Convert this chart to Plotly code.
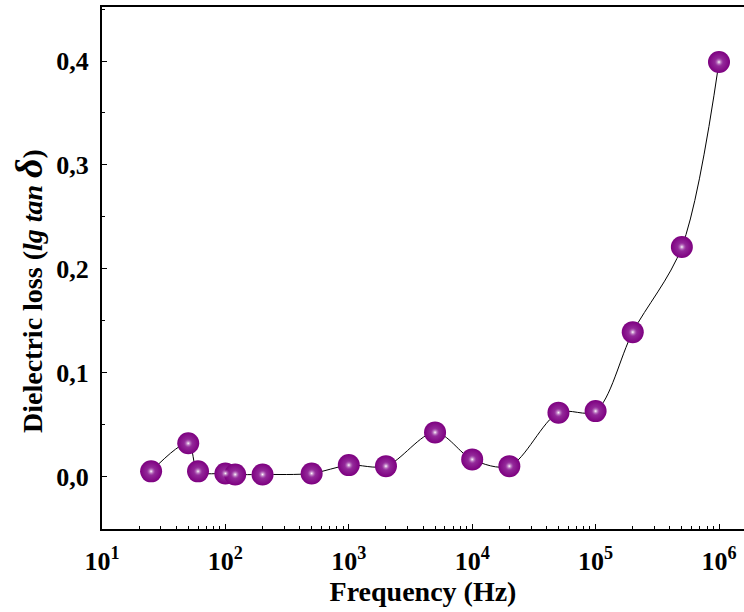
import plotly.graph_objects as go

freq_hz = [25, 50, 60, 100, 120, 200, 500, 1e3, 2e3, 5e3, 1e4, 2e4, 5e4, 1e5, 2e5, 5e5, 1e6]
loss = [0.005, 0.032, 0.005, 0.003, 0.002, 0.002, 0.003, 0.011, 0.010, 0.0425, 0.0165,
        0.010, 0.0615, 0.063, 0.139, 0.221, 0.399]
x_tick_vals = [1e1, 1e2, 1e3, 1e4, 1e5, 1e6]
x_tick_text = ["10<sup>1</sup>", "10<sup>2</sup>", "10<sup>3</sup>", "10<sup>4</sup>",
               "10<sup>5</sup>", "10<sup>6</sup>"]
y_tick_vals = [0.0, 0.1, 0.2, 0.3, 0.4]

FONT = "Liberation Serif"
PURPLE = "#7d0080"

fig = go.Figure()
fig.add_trace(go.Scatter(
    x=freq_hz, y=loss, mode="lines",
    line=dict(color="black", width=1, shape="spline", smoothing=0.9),
    hoverinfo="skip", showlegend=False))
fig.add_trace(go.Scatter(
    x=freq_hz, y=loss, mode="markers",
    marker=dict(size=22, color=PURPLE, line=dict(width=0),
                gradient=dict(type="radial", color="#a040a8")),
    showlegend=False))
fig.add_trace(go.Scatter(
    x=freq_hz, y=loss, mode="markers",
    marker=dict(size=9, color="rgba(160,64,168,0)", line=dict(width=0),
                gradient=dict(type="radial", color="#ffffff")),
    hoverinfo="skip", showlegend=False))

fig.update_layout(
    width=744, height=612,
    margin=dict(l=102, r=0, t=7, b=83),
    paper_bgcolor="white", plot_bgcolor="white",
    separators=", ",
    font=dict(family=FONT, size=27, color="black"),
    xaxis=dict(
        type="log", range=[1, 6.2026],
        tickvals=x_tick_vals, ticktext=x_tick_text,
        tickfont=dict(family=FONT, size=26, color="black", weight="bold"),
        ticklabelstandoff=8,
        showline=True, linecolor="black", linewidth=2, mirror=True,
        ticks="inside", ticklen=5, tickcolor="black",
        minor=dict(ticks="inside", ticklen=3, tickcolor="black", dtick="D1"),
        showgrid=False, zeroline=False,
        title=dict(text="<b>Frequency (Hz)</b>", font=dict(family=FONT, size=28), standoff=4),
    ),
    yaxis=dict(
        range=[-0.0505, 0.452],
        tickvals=y_tick_vals, tickformat=".1f",
        tickfont=dict(family=FONT, size=26, color="black", weight="bold"),
        ticklabelstandoff=6,
        showline=True, linecolor="black", linewidth=2, mirror=False,
        ticks="inside", ticklen=5, tickcolor="black",
        minor=dict(ticks="inside", ticklen=3, tickcolor="black", dtick=0.05),
        showgrid=False, zeroline=False,
    ),
    annotations=[dict(
        text="<b>Dielectric loss (<i>lg tan</i> <span style='font-size:38px'><i>δ</i></span>)</b>",
        font=dict(family=FONT, size=28, color="black"),
        textangle=-90, xref="paper", yref="paper", x=0, y=0.456,
        xanchor="center", yanchor="middle", xshift=-73, showarrow=False)],
)

fig.write_html("out.html")
